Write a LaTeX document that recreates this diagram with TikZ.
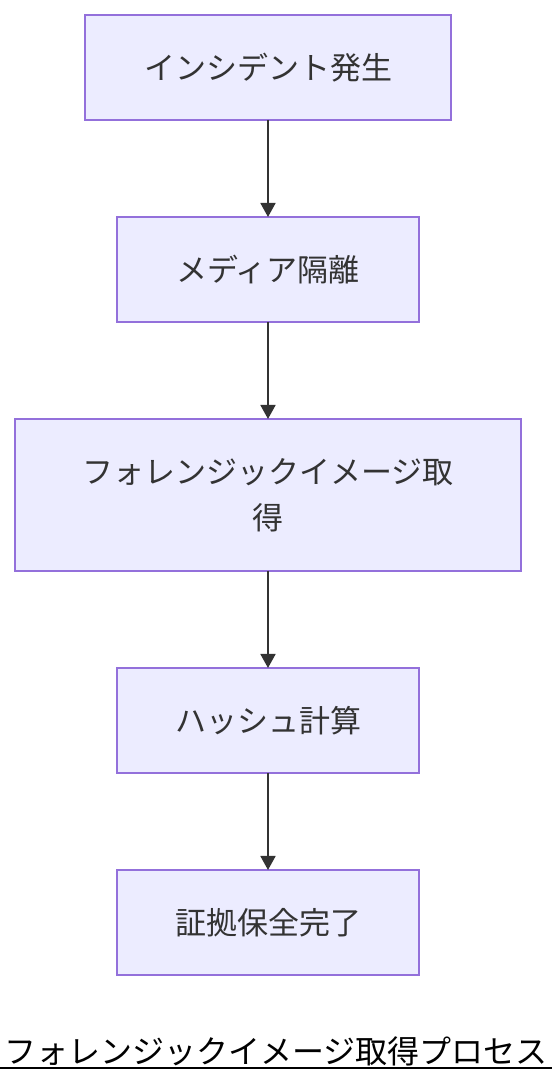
\documentclass[tikz,border=0pt]{standalone}
\usepackage{fontspec}
\setmainfont{Noto Sans CJK JP}
\usetikzlibrary{positioning,arrows.meta}
\definecolor{boxfill}{HTML}{ECECFF}
\definecolor{boxline}{HTML}{9370DB}
\definecolor{arrowline}{HTML}{333333}
\tikzset{
	stepbox/.style={draw=boxline, line width=1.6pt, fill=boxfill, text=arrowline, font=\fontsize{31}{46}\selectfont, align=center, minimum height=105pt, inner sep=0pt, outer sep=0pt},
	flow/.style={draw=arrowline, line width=1.8pt, -{Triangle[width=15pt,length=14pt]}}
}
\begin{document}
\begin{tikzpicture}[x=1pt,y=1pt, node distance=97pt]
	\newcommand\picW{552}
	\newcommand\picH{1084}
	\useasboundingbox (0,0) rectangle (\picW,\picH);

	\node[stepbox, minimum width=366pt] (incident) at (268,1016.5) {インシデント発生};
	\node[stepbox, minimum width=302pt, below=of incident] (isolate) {メディア隔離};
	\node[stepbox, minimum width=506pt, minimum height=152pt, below=of isolate] (image) {フォレンジックイメージ取\\得};
	\node[stepbox, minimum width=302pt, below=of image] (hash) {ハッシュ計算};
	\node[stepbox, minimum width=302pt, below=of hash] (keep) {証拠保全完了};

	\draw[flow] (incident) -- (isolate);
	\draw[flow] (isolate) -- (image);
	\draw[flow] (image) -- (hash);
	\draw[flow] (hash) -- (keep);

	% title
	\node[font=\fontsize{32}{38}\selectfont, inner sep=0pt] (title) at (276,33) {フォレンジックイメージ取得プロセス};
	\coordinate (ulA) at (0,16);
	\coordinate (ulB) at (\picW,16);
	\draw[line width=1.6pt] (ulA) -- (ulB);
\end{tikzpicture}
\end{document}
